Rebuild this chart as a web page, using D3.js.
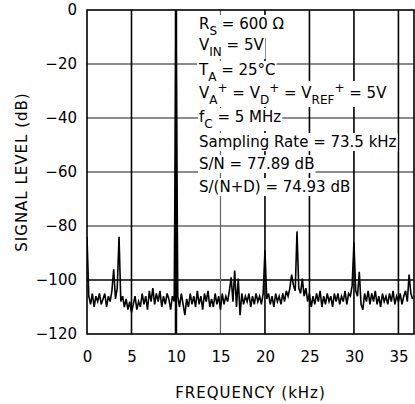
<!DOCTYPE html>
<html lang="en">

<head>
    <meta charset="UTF-8" />
    <title>Signal level vs frequency</title>
    <script src="https://d3js.org/d3.v7.min.js"></script>
    <style>
        body {
            margin: 0;
            background: #fff;
        }

        svg {
            display: block;
            font-family: "DejaVu Sans", sans-serif;
        }

        .tick text {
            font-size: 15px;
            fill: #000;
        }
    </style>
</head>

<body>
    <svg id="chart" width="415" height="404"></svg>

    <script>
        // axis ticks
        const freqTicks = [0, 5, 10, 15, 20, 25, 30, 35];
        const levelTicks = [0, -20, -40, -60, -80, -100, -120];

        // FFT bins, 0.2 kHz apart, starting at 0 kHz
        const binStep = 0.2;
        const levels = [
            -84, -106, -109, -105, -110, -106, -108, -105, -109, -107,
            -105, -110, -106, -108, -104, -96, -107, -103, -84, -108,
            -106, -110, -107, -111, -108, -112, -109, -106, -111, -108,
            -110, -105, -109, -106, -111, -104, -108, -103, -109, -105,
            -108, -104, -110, -106, -109, -105, -107, -111, -106, -108,
            0, -106, -110, -105, -109, -113, -107, -110, -105, -109,
            -106, -110, -104, -109, -106, -111, -105, -108, -104, -110,
            -107, -110, -105, -109, -106, -111, -105, -109, -106, -108,
            -104, -99, -108, -96.5, -110, -99.5, -113, -105, -109, -106,
            -108, -105, -110, -106, -109, -105, -108, -106, -109, -105,
            -89, -107, -105, -109, -106, -110, -105, -108, -106, -109,
            -105, -108, -104, -106, -103, -98, -102, -104, -82, -103,
            -105, -99.5, -106, -103, -108, -105, -110, -106, -109, -105,
            -108, -104, -110, -106, -109, -105, -108, -106, -110, -105,
            -108, -105, -109, -106, -108, -104, -109, -105, -106, -102,
            -86, -104, -106, -97, -109, -111, -105, -108, -104, -109,
            -105, -108, -104, -109, -106, -110, -105, -108, -106, -109,
            -105, -108, -104, -109, -106, -108, -105, -109, -106, -104,
            -108, -98, -105, -107
        ];

        const noteLines = [
            "R_{S} = 600 Ω",
            "V_{IN} = 5V",
            "T_{A} = 25°C",
            "V_{A}^{+} = V_{D}^{+} = V_{REF}^{+} = 5V",
            "f_{C} = 5 MHz",
            "Sampling Rate = 73.5 kHz",
            "S/N = 77.89 dB",
            "S/(N+D) = 74.93 dB"
        ];
        const noteBaselines = [29, 50, 75, 98, 122, 147, 169, 192];

        const svg = d3.select("#chart");

        const margin = { top: 10, right: 1, bottom: 70, left: 87 };
        const width = +svg.attr("width");
        const height = +svg.attr("height");

        const x = d3.scaleLinear()
            .domain([0, 36.75])
            .range([margin.left, width - margin.right]);

        const y = d3.scaleLinear()
            .domain([-120, 0])
            .range([height - margin.bottom, margin.top]);

        svg.append("clipPath")
            .attr("id", "plotClip")
            .append("rect")
            .attr("x", x(0))
            .attr("y", y(0))
            .attr("width", x(36.75) - x(0))
            .attr("height", y(-120) - y(0));

        // grid
        svg.append("g")
            .selectAll("line")
            .data(levelTicks.filter(d => d !== 0 && d !== -120))
            .join("line")
            .attr("x1", x(0)).attr("x2", x(36.75))
            .attr("y1", d => y(d)).attr("y2", d => y(d))
            .attr("stroke", d => d === -100 ? "#000" : "#666")
            .attr("stroke-width", d => d === -100 ? 1.5 : 1.3);

        svg.append("g")
            .selectAll("line")
            .data(freqTicks.filter(d => d !== 0))
            .join("line")
            .attr("x1", d => x(d)).attr("x2", d => x(d))
            .attr("y1", y(0)).attr("y2", y(-120))
            .attr("stroke", d => d === 15 ? "#666" : "#000")
            .attr("stroke-width", d => d === 10 ? 2.5 : (d === 15 ? 1.2 : 1.6));

        // spectrum trace
        const line = d3.line()
            .x((d, i) => x(i * binStep))
            .y(d => y(d));

        svg.append("path")
            .datum(levels)
            .attr("clip-path", "url(#plotClip)")
            .attr("fill", "none")
            .attr("stroke", "#000")
            .attr("stroke-width", 1.6)
            .attr("stroke-linejoin", "miter")
            .attr("d", line);

        // frame
        svg.append("rect")
            .attr("x", x(0))
            .attr("y", y(0))
            .attr("width", x(36.75) - x(0))
            .attr("height", y(-120) - y(0))
            .attr("fill", "none")
            .attr("stroke", "#000")
            .attr("stroke-width", 1.6);

        // conditions box, each line masks the grid behind it
        const notes = svg.append("g")
            .attr("font-size", 15);

        noteLines.forEach((str, i) => {
            const g = notes.append("g");
            const bg = g.append("rect").attr("fill", "#fff");
            const text = g.append("text")
                .attr("x", 199)
                .attr("y", noteBaselines[i]);

            let shift = 0;
            str.split(/(_\{[^}]*\}|\^\{[^}]*\})/).filter(s => s.length).forEach(part => {
                let target = 0;
                let content = part;
                let small = false;
                if (part.startsWith("_{")) {
                    target = 6; content = part.slice(2, -1); small = true;
                } else if (part.startsWith("^{")) {
                    target = -6; content = part.slice(2, -1); small = true;
                }
                text.append("tspan")
                    .attr("dy", target - shift)
                    .attr("font-size", small ? 12 : 15)
                    .text(content);
                shift = target;
            });

            const box = text.node().getBBox();
            bg.attr("x", box.x - 1)
                .attr("y", box.y)
                .attr("width", box.width + 2)
                .attr("height", box.height);
        });

        // axes labels
        const xAxis = d3.axisBottom(x)
            .tickValues(freqTicks)
            .tickSize(0)
            .tickPadding(17)
            .tickFormat(d => d);

        svg.append("g")
            .attr("transform", `translate(0, ${y(-120)})`)
            .call(xAxis)
            .call(g => g.select(".domain").remove());

        const yAxis = d3.axisLeft(y)
            .tickValues(levelTicks)
            .tickSize(0)
            .tickPadding(10)
            .tickFormat(d => d === 0 ? "0" : "\u2212" + Math.abs(d));

        svg.append("g")
            .attr("transform", `translate(${x(0)}, 0)`)
            .call(yAxis)
            .call(g => g.select(".domain").remove());

        svg.selectAll(".tick text").attr("font-family", "DejaVu Sans, sans-serif");

        svg.append("text")
            .attr("x", (x(0) + x(36.75)) / 2)
            .attr("y", 398)
            .attr("text-anchor", "middle")
            .attr("font-size", 15)
            .attr("letter-spacing", 1)
            .text("FREQUENCY (kHz)");

        svg.append("text")
            .attr("transform", `translate(27, ${(y(0) + y(-120)) / 2}) rotate(-90)`)
            .attr("text-anchor", "middle")
            .attr("font-size", 15)
            .attr("letter-spacing", 1)
            .text("SIGNAL LEVEL (dB)");
    </script>
</body>

</html>
